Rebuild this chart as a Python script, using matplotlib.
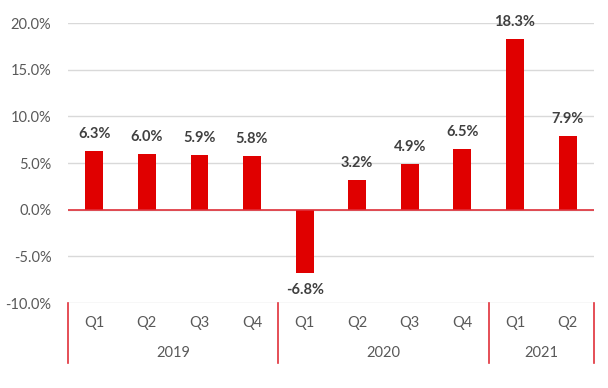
import matplotlib

matplotlib.use("Agg")
import matplotlib.pyplot as plt
import matplotlib.transforms as mtransforms
from matplotlib.ticker import FuncFormatter

# Data
quarters = ["Q1", "Q2", "Q3", "Q4", "Q1", "Q2", "Q3", "Q4", "Q1", "Q2"]
years = ["2019", "2020", "2021"]
year_sizes = [4, 4, 2]
values = [6.3, 6.0, 5.9, 5.8, -6.8, 3.2, 4.9, 6.5, 18.3, 7.9]

plt.rcParams["font.family"] = ["Lato", "DejaVu Sans"]

fig = plt.figure(figsize=(6.08, 3.88), dpi=100)
ax = fig.add_axes([0.1118, 0.219, 0.865, 0.7217])

x = list(range(len(values)))
ax.bar(x, values, width=0.34, color="#E00000", zorder=3)

ax.set_ylim(-10, 20)
ax.set_xlim(-0.5, len(values) - 0.5)
ax.set_yticks([-10, -5, 0, 5, 10, 15, 20])
ax.yaxis.set_major_formatter(FuncFormatter(lambda v, p: f"{v:.1f}%"))
ax.tick_params(axis="y", length=0, labelsize=10.5, labelcolor="#595959", pad=12)
ax.set_xticks([])
for s in ax.spines.values():
    s.set_visible(False)
ax.grid(axis="y", color="#D9D9D9", linewidth=1, zorder=0)
ax.axhline(0, color="#E0303A", linewidth=1.2, zorder=4)

# data labels
for xi, v in zip(x, values):
    if v >= 0:
        ax.annotate(f"{v:.1f}%", (xi, v), xytext=(0, 7), textcoords="offset points",
                    ha="center", va="bottom", fontsize=10.5, fontweight="bold",
                    color="#404040")
    else:
        ax.annotate(f"{v:.1f}%", (xi, v), xytext=(0, -7), textcoords="offset points",
                    ha="center", va="top", fontsize=10.5, fontweight="bold",
                    color="#404040")

# two-level category axis
trans = mtransforms.blended_transform_factory(ax.transData, ax.transAxes)
for xi, q in zip(x, quarters):
    ax.text(xi, -0.072, q, transform=trans, ha="center", va="center",
            fontsize=10.5, color="#595959")

start = -0.5
seps = [start]
for yr, n in zip(years, year_sizes):
    ax.text(start + n / 2, -0.177, yr, transform=trans, ha="center", va="center",
            fontsize=10.5, color="#595959")
    start += n
    seps.append(start)

for sx in seps:
    ax.plot([sx, sx], [0, -0.215], transform=trans, color="#E0303A",
            linewidth=1.2, clip_on=False)

fig.savefig("out.png", dpi=100)
